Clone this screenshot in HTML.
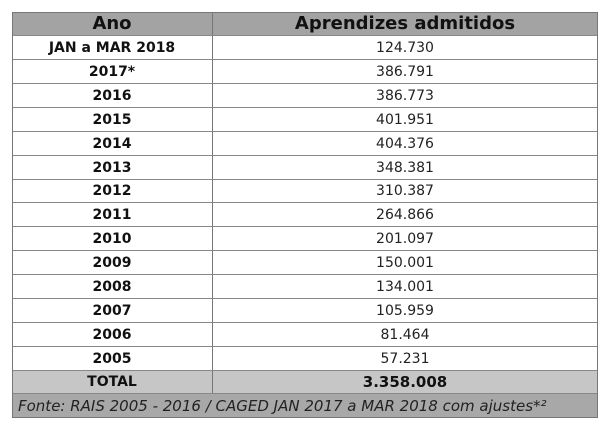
<!DOCTYPE html>
<html><head><style>
body{margin:0;width:607px;height:431px;background:#fff;position:relative;overflow:hidden;font-family:"DejaVu Sans","Liberation Sans",sans-serif;color:#111}
.r{position:absolute;left:12px;width:585px;border-bottom:1px solid #888;box-sizing:border-box}
.c1,.c2{position:absolute;top:0;bottom:0;display:flex;align-items:center;justify-content:center}
.c1{left:0;width:200px;font-weight:bold;font-size:14px}
.c2{left:200px;right:0;font-size:14px;border-left:1px solid #777;color:#222}
.frame{position:absolute;left:12px;top:12px;width:586px;height:406px;border:1px solid #777;box-sizing:border-box}
</style></head><body>
<div class="r" style="top:12px;height:24px;background:#a3a3a3"><div class="c1" style="font-size:18px">Ano</div><div class="c2" style="font-size:18px;font-weight:bold;color:#111">Aprendizes admitidos</div></div>
<div class="r" style="top:36px;height:24px"><div class="c1">JAN a MAR 2018</div><div class="c2">124.730</div></div>
<div class="r" style="top:60px;height:24px"><div class="c1">2017*</div><div class="c2">386.791</div></div>
<div class="r" style="top:84px;height:24px"><div class="c1">2016</div><div class="c2">386.773</div></div>
<div class="r" style="top:108px;height:24px"><div class="c1">2015</div><div class="c2">401.951</div></div>
<div class="r" style="top:132px;height:24px"><div class="c1">2014</div><div class="c2">404.376</div></div>
<div class="r" style="top:156px;height:24px"><div class="c1">2013</div><div class="c2">348.381</div></div>
<div class="r" style="top:180px;height:23px"><div class="c1">2012</div><div class="c2">310.387</div></div>
<div class="r" style="top:203px;height:24px"><div class="c1">2011</div><div class="c2">264.866</div></div>
<div class="r" style="top:227px;height:24px"><div class="c1">2010</div><div class="c2">201.097</div></div>
<div class="r" style="top:251px;height:24px"><div class="c1">2009</div><div class="c2">150.001</div></div>
<div class="r" style="top:275px;height:24px"><div class="c1">2008</div><div class="c2">134.001</div></div>
<div class="r" style="top:299px;height:24px"><div class="c1">2007</div><div class="c2">105.959</div></div>
<div class="r" style="top:323px;height:24px"><div class="c1">2006</div><div class="c2">81.464</div></div>
<div class="r" style="top:347px;height:24px"><div class="c1">2005</div><div class="c2">57.231</div></div>
<div class="r" style="top:371px;height:23px;background:#c6c6c6"><div class="c1">TOTAL</div><div class="c2" style="font-weight:bold;font-size:15px;color:#111">3.358.008</div></div>
<div class="r" style="top:394px;height:24px;background:#a8a8a8;font-style:italic;font-size:15px;padding-left:6px;line-height:24px;color:#222">Fonte: RAIS 2005 - 2016 / CAGED JAN 2017 a MAR 2018 com ajustes*²</div>
<div class="frame"></div>
</body></html>
